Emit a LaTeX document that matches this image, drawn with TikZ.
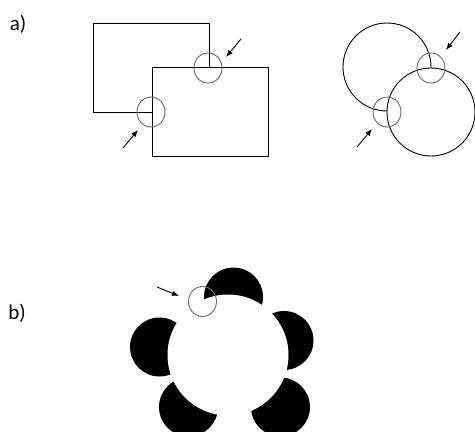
\documentclass[tikz,border=0pt]{standalone}
\usepackage{fontspec}
\setmainfont{Carlito}
\usetikzlibrary{arrows.meta}

\begin{document}
\begin{tikzpicture}[x=1pt, y=-1pt, line width=0.9pt,
	junction/.style={draw=black!55, line width=1pt},
	pointer/.style={line width=0.9pt, -{Latex[length=7pt, width=5.5pt]}},
	tag/.style={font=\fontsize{21}{25}\selectfont, inner sep=0pt}]
	\useasboundingbox (0,0) rectangle (475,432);
	\node[tag] (tagA) at (18,24.5) {a)};
	\node[tag] (tagB) at (17,313) {b)};
	\draw (93,23) rectangle (209,112);
	\filldraw[fill=white] (152,67) rectangle (268,156);
	\draw (387,67) circle (44);
	\filldraw[fill=white] (431,112) circle (44);
	\foreach \c in {(233.5,297),(284,340.5),(159.5,347),(188.5,407),(280.5,407)} {\fill \c circle (29.5);}
	\fill[white] (228,355) circle (60.5);
	\foreach \j in {(208,68),(151,112),(431,68),(387,112),(202.5,301.5)} {\draw[junction] \j ellipse [x radius=14, y radius=15];}
	\coordinate (s1) at (241,39);  \coordinate (e1) at (226,57);
	\coordinate (s2) at (123,148); \coordinate (e2) at (138,130);
	\coordinate (s3) at (460,32);  \coordinate (e3) at (446,50);
	\coordinate (s4) at (357,147); \coordinate (e4) at (372,129);
	\coordinate (s5) at (157,287); \coordinate (e5) at (179,296);
	\foreach \k in {1,...,5} {\draw[pointer] (s\k) -- (e\k);}
\end{tikzpicture}
\end{document}
